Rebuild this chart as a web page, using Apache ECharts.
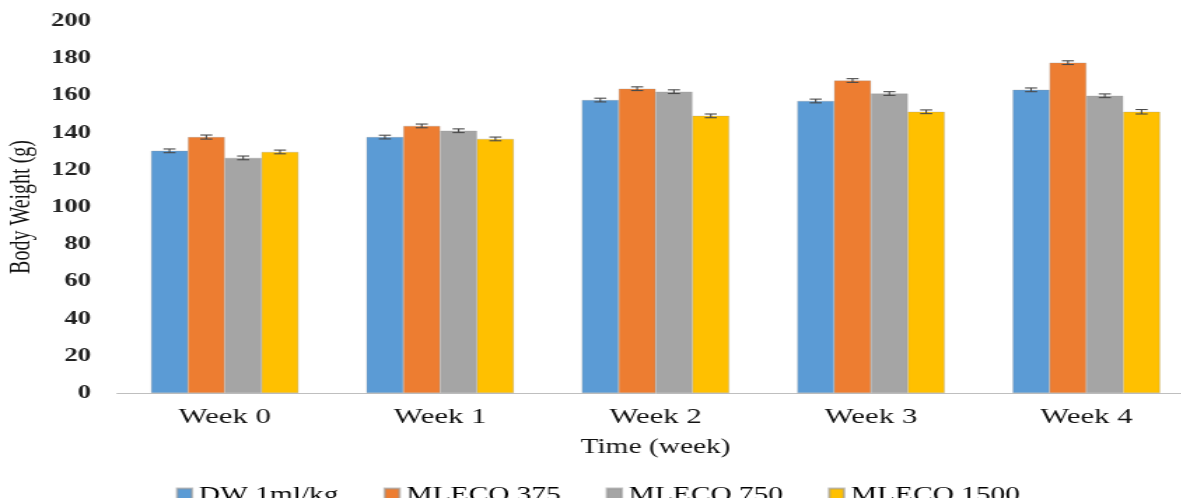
<!DOCTYPE html>
<html><head><meta charset="utf-8">
<script src="https://cdn.jsdelivr.net/npm/echarts@6/dist/echarts.min.js"></script>
<style>
html,body{margin:0;padding:0;background:#fff;overflow:hidden;width:1181px;height:498px}
#c{width:870px;height:498px;transform:scaleX(1.4);transform-origin:0 0}
</style>
</head><body><div id="c"></div>
<script>
const categories = ['Week 0','Week 1','Week 2','Week 3','Week 4'];
const seriesNames = ['DW 1ml/kg','MLECO 375','MLECO 750','MLECO 1500'];
const dw = [130.2, 137.6, 157.5, 157.0, 163.0];
const m375 = [137.6, 143.6, 163.6, 168.0, 177.6];
const m750 = [126.4, 141.0, 162.0, 161.0, 159.8];
const m1500 = [129.6, 136.6, 149.0, 151.2, 151.2];
const errDw = [1, 1, 1, 1, 1];
const err375 = [1.1, 1, 1, 1, 1];
const err750 = [1, 1, 1, 1, 1];
const err1500 = [1, 1, 1, 1, 1.2];
const yTicks = [0,20,40,60,80,100,120,140,160,180,200];
const colors = ['#5B9BD5','#ED7D31','#A5A5A5','#FFC000'];
const values = [dw, m375, m750, m1500];
const errs = [errDw, err375, err750, err1500];
const catGap = 0.316;
const font = 'Liberation Serif';

const series = [];
values.forEach((v,i)=>{
  series.push({name: seriesNames[i], type:'bar', data:v, barGap:'0%', barCategoryGap:(catGap*100)+'%',
    itemStyle:{color:colors[i], borderColor:'rgba(150,150,150,0.6)', borderWidth:0.5}});
});
values.forEach((v,i)=>{
  series.push({type:'custom', name: seriesNames[i]+' err', silent:true, z:5,
    data: v.map((val,k)=>[k, val, errs[i][k]]),
    renderItem:(params, api)=>{
      const k = api.value(0), val = api.value(1), e = api.value(2);
      const band = api.size([1,0])[0];
      const gw = band*(1-catGap);
      const bw = gw/4;
      const c = api.coord([k, val]);
      const x = c[0] - gw/2 + bw*(i+0.5);
      const hi = api.coord([k, val+e])[1];
      const lo = api.coord([k, val-e])[1];
      const cap = 4.3;
      const st = {stroke:'#4a4a4a', lineWidth:1.1};
      return {type:'group', children:[
        {type:'line', shape:{x1:x,y1:hi,x2:x,y2:lo}, style:st},
        {type:'line', shape:{x1:x-cap,y1:hi,x2:x+cap,y2:hi}, style:st},
        {type:'line', shape:{x1:x-cap,y1:lo,x2:x+cap,y2:lo}, style:st}
      ]};
    }
  });
});

const chart = echarts.init(document.getElementById('c'));
chart.setOption({
  animation:false,
  grid:{left:83.6, top:21, width:769.3, height:372, containLabel:false, outerBoundsMode:'none'},
  legend:{data:seriesNames, top:480, left:120.6, itemWidth:10.5, itemHeight:14, itemGap:32,
    icon:'rect', textStyle:{fontFamily:font, fontSize:21, color:'#000'}},
  xAxis:{type:'category', data:categories,
    axisLine:{lineStyle:{color:'#bfbfbf', width:1}}, axisTick:{show:false},
    axisLabel:{fontFamily:font, fontSize:22, color:'#111', margin:13},
    name:'Time (week)', nameLocation:'middle', nameGap:44,
    nameTextStyle:{fontFamily:font, fontSize:21, color:'#111'}},
  yAxis:{type:'value', min:0, max:200, interval:20,
    splitLine:{show:false}, axisLine:{show:false}, axisTick:{show:false},
    axisLabel:{fontFamily:font, fontSize:19, fontWeight:'bold', color:'#222', margin:18.6},
    name:'Body Weight (g)', nameLocation:'middle', nameGap:58, nameRotate:90,
    nameTextStyle:{fontFamily:font, fontSize:20, color:'#111'}},
  series: series
});
</script></body></html>
